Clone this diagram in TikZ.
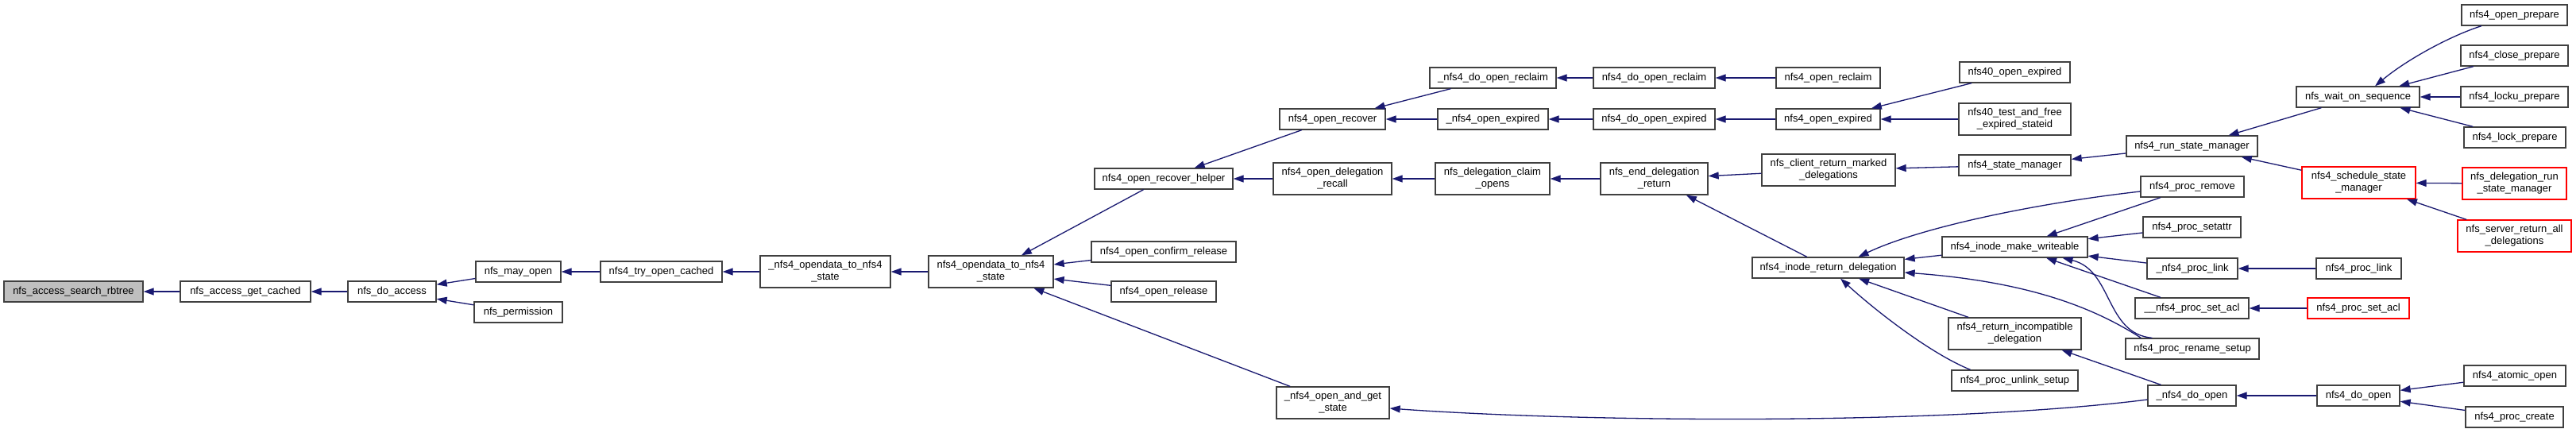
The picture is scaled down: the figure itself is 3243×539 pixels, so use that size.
\documentclass[tikz,border=0pt]{standalone}
\usepackage{fontspec}
\setmainfont{Liberation Sans}
\usetikzlibrary{arrows.meta}
\definecolor{edgeblue}{HTML}{191970}
\definecolor{boxgray}{HTML}{404040}
\definecolor{rootgray}{HTML}{BFBFBF}
\definecolor{truncred}{HTML}{FF0000}
\begin{document}
\begin{tikzpicture}[x=1pt,y=-1pt,
  fn/.style={draw=boxgray, line width=1.3pt, fill=white, minimum height=26pt, inner sep=0pt,
             font=\fontsize{13}{15}\selectfont, align=center},
  fn2/.style={fn, minimum height=40pt},
  root/.style={fill=rootgray},
  cut/.style={draw=truncred},
  call/.style={draw=edgeblue, line width=1.3pt, -{Triangle[length=13pt,width=9pt]}}
]
\useasboundingbox (0,0) rectangle (3243,539);

% rank 0-6
\node[fn, root, minimum width=175pt] (rbtree) at (92.5,367) {nfs\_access\_search\_rbtree};
\node[fn, minimum width=164pt] (getcached) at (309,367) {nfs\_access\_get\_cached};
\node[fn, minimum width=111pt] (doaccess) at (493.5,367) {nfs\_do\_access};
\node[fn, minimum width=107pt] (mayopen) at (652.5,342) {nfs\_may\_open};
\node[fn, minimum width=111pt] (permission) at (652.5,393) {nfs\_permission};
\node[fn, minimum width=153pt] (tryopen) at (832.5,342) {nfs4\_try\_open\_cached};
\node[fn2, minimum width=164pt] (uopendata) at (1039,342) {\_nfs4\_opendata\_to\_nfs4\\\_state};
\node[fn2, minimum width=157pt] (opendata) at (1247.5,342) {nfs4\_opendata\_to\_nfs4\\\_state};
% rank 7
\node[fn, minimum width=174pt] (recoverhelper) at (1465,225) {nfs4\_open\_recover\_helper};
\node[fn, minimum width=182pt] (confirmrelease) at (1465,317) {nfs4\_open\_confirm\_release};
\node[fn, minimum width=132pt] (openrelease) at (1465,367) {nfs4\_open\_release};
% rank 8
\node[fn, minimum width=133pt] (openrecover) at (1677.5,150) {nfs4\_open\_recover};
\node[fn2, minimum width=149pt] (delegrecall) at (1677.5,225) {nfs4\_open\_delegation\\\_recall};
\node[fn2, minimum width=142pt] (openandget) at (1678,507) {\_nfs4\_open\_and\_get\\\_state};
% rank 9
\node[fn, minimum width=159pt] (udoopenreclaim) at (1879.5,98) {\_nfs4\_do\_open\_reclaim};
\node[fn, minimum width=139pt] (uopenexpired) at (1879.5,150) {\_nfs4\_open\_expired};
\node[fn2, minimum width=144pt] (claimopens) at (1879,225) {nfs\_delegation\_claim\\\_opens};
% rank 10
\node[fn, minimum width=153pt] (doopenreclaim) at (2082.5,98) {nfs4\_do\_open\_reclaim};
\node[fn, minimum width=153pt] (doopenexpired) at (2082.5,150) {nfs4\_do\_open\_expired};
\node[fn2, minimum width=135pt] (enddeleg) at (2082.5,225) {nfs\_end\_delegation\\\_return};
% rank 11
\node[fn, minimum width=131pt] (openreclaim) at (2301.5,98) {nfs4\_open\_reclaim};
\node[fn, minimum width=131pt] (openexpired) at (2301.5,150) {nfs4\_open\_expired};
\node[fn2, minimum width=168pt] (clientreturn) at (2302,214) {nfs\_client\_return\_marked\\\_delegations};
\node[fn, minimum width=191pt] (inodereturn) at (2301.5,337) {nfs4\_inode\_return\_delegation};
% rank 12
\node[fn, minimum width=139pt] (nfsfortyexp) at (2536.5,91) {nfs40\_open\_expired};
\node[fn2, minimum width=141pt] (nfsfortytest) at (2536.5,150) {nfs40\_test\_and\_free\\\_expired\_stateid};
\node[fn, minimum width=141pt] (statemanager) at (2536.5,208) {nfs4\_state\_manager};
\node[fn, minimum width=183pt] (makewriteable) at (2536.5,311) {nfs4\_inode\_make\_writeable};
\node[fn2, minimum width=167pt] (returnincompat) at (2536.5,420) {nfs4\_return\_incompatible\\\_delegation};
\node[fn, minimum width=159pt] (unlinksetup) at (2536.5,479) {nfs4\_proc\_unlink\_setup};
% rank 13
\node[fn, minimum width=165pt] (runstatemanager) at (2759.5,184) {nfs4\_run\_state\_manager};
\node[fn, minimum width=130pt] (procremove) at (2760,235) {nfs4\_proc\_remove};
\node[fn, minimum width=123pt] (procsetattr) at (2759.5,286) {nfs4\_proc\_setattr};
\node[fn, minimum width=114pt] (uproclink) at (2760,338) {\_nfs4\_proc\_link};
\node[fn, minimum width=143pt] (uuprocsetacl) at (2759.5,388) {\_\_nfs4\_proc\_set\_acl};
\node[fn, minimum width=168pt] (renamesetup) at (2760,439) {nfs4\_proc\_rename\_setup};
\node[fn, minimum width=111pt] (udoopen) at (2759.5,498) {\_nfs4\_do\_open};
% rank 14
\node[fn, minimum width=155pt] (waitonseq) at (2968.5,122) {nfs\_wait\_on\_sequence};
\node[fn2, cut, minimum width=143pt] (schedule) at (2969.5,230) {nfs4\_schedule\_state\\\_manager};
\node[fn, minimum width=107pt] (proclink) at (2969.5,338) {nfs4\_proc\_link};
\node[fn, cut, minimum width=128pt] (procsetacl) at (2969,388) {nfs4\_proc\_set\_acl};
\node[fn, minimum width=104pt] (doopen) at (2969,498) {nfs4\_do\_open};
% rank 15
\node[fn, minimum width=133pt] (openprepare) at (3165.5,19) {nfs4\_open\_prepare};
\node[fn, minimum width=135pt] (closeprepare) at (3165.5,70) {nfs4\_close\_prepare};
\node[fn, minimum width=135pt] (lockuprepare) at (3165.5,122) {nfs4\_locku\_prepare};
\node[fn, minimum width=128pt] (lockprepare) at (3166,173) {nfs4\_lock\_prepare};
\node[fn2, cut, minimum width=131pt] (delegrun) at (3165.5,231) {nfs\_delegation\_run\\\_state\_manager};
\node[fn2, cut, minimum width=143pt] (serverreturn) at (3165.5,297) {nfs\_server\_return\_all\\\_delegations};
\node[fn, minimum width=128pt] (atomicopen) at (3166,473) {nfs4\_atomic\_open};
\node[fn, minimum width=123pt] (proccreate) at (3165.5,525) {nfs4\_proc\_create};

% edges (caller -> callee)
\draw[call] (getcached) -- (rbtree);
\draw[call] (doaccess) -- (getcached);
\draw[call] (mayopen) -- (doaccess);
\draw[call] (permission) -- (doaccess);
\draw[call] (tryopen) -- (mayopen);
\draw[call] (uopendata) -- (tryopen);
\draw[call] (opendata) -- (uopendata);
\draw[call] (recoverhelper) -- (opendata);
\draw[call] (confirmrelease) -- (opendata);
\draw[call] (openrelease) -- (opendata);
\draw[call] (openandget) -- (opendata);
\draw[call] (openrecover) -- (recoverhelper);
\draw[call] (delegrecall) -- (recoverhelper);
\draw[call] (udoopenreclaim) -- (openrecover);
\draw[call] (uopenexpired) -- (openrecover);
\draw[call] (claimopens) -- (delegrecall);
\draw[call] (doopenreclaim) -- (udoopenreclaim);
\draw[call] (doopenexpired) -- (uopenexpired);
\draw[call] (enddeleg) -- (claimopens);
\draw[call] (openreclaim) -- (doopenreclaim);
\draw[call] (openexpired) -- (doopenexpired);
\draw[call] (clientreturn) -- (enddeleg);
\draw[call] (inodereturn) -- (enddeleg);
\draw[call] (nfsfortyexp) -- (openexpired);
\draw[call] (nfsfortytest) -- (openexpired);
\draw[call] (statemanager) -- (clientreturn);
\draw[call] (runstatemanager) -- (statemanager);
\draw[call] (waitonseq) -- (runstatemanager);
\draw[call] (schedule) -- (runstatemanager);
\draw[call] ([xshift=-41.5pt]openprepare.south) .. controls (3085,45) and (3030,75) .. ([xshift=21.5pt]waitonseq.north);
\draw[call] (closeprepare) -- (waitonseq);
\draw[call] (lockuprepare) -- (waitonseq);
\draw[call] (lockprepare) -- (waitonseq);
\draw[call] (delegrun) -- (schedule);
\draw[call] (serverreturn) -- (schedule);
\draw[call] ([yshift=-6pt]procremove.west) .. controls (2570,255) and (2420,285) .. ([xshift=38pt]inodereturn.north);
\draw[call] (makewriteable) -- (inodereturn);
\draw[call] ([xshift=20pt]renamesetup.north west) .. controls (2640,390) and (2560,355) .. ([yshift=-6pt]inodereturn.east);
\draw[call] (returnincompat) -- (inodereturn);
\draw[call] ([xshift=-56pt]unlinksetup.north) .. controls (2430,445) and (2360,390) .. ([xshift=15.5pt]inodereturn.south);
\draw[call] (procremove) -- (makewriteable);
\draw[call] (procsetattr) -- (makewriteable);
\draw[call] (uproclink) -- (makewriteable);
\draw[call] (uuprocsetacl) -- (makewriteable);
\draw[call] ([xshift=34pt]renamesetup.north west) .. controls (2650,420) and (2660,340) .. ([xshift=60pt]makewriteable.south);
\draw[call] (udoopen) -- (returnincompat);
\draw[call] (proclink) -- (uproclink);
\draw[call] (procsetacl) -- (uuprocsetacl);
\draw[call] ([yshift=-5pt]udoopen.west) .. controls (2450,535) and (2000,532) .. ([yshift=-7pt]openandget.east);
\draw[call] (doopen) -- (udoopen);
\draw[call] (atomicopen) -- (doopen);
\draw[call] (proccreate) -- (doopen);
\end{tikzpicture}
\end{document}
